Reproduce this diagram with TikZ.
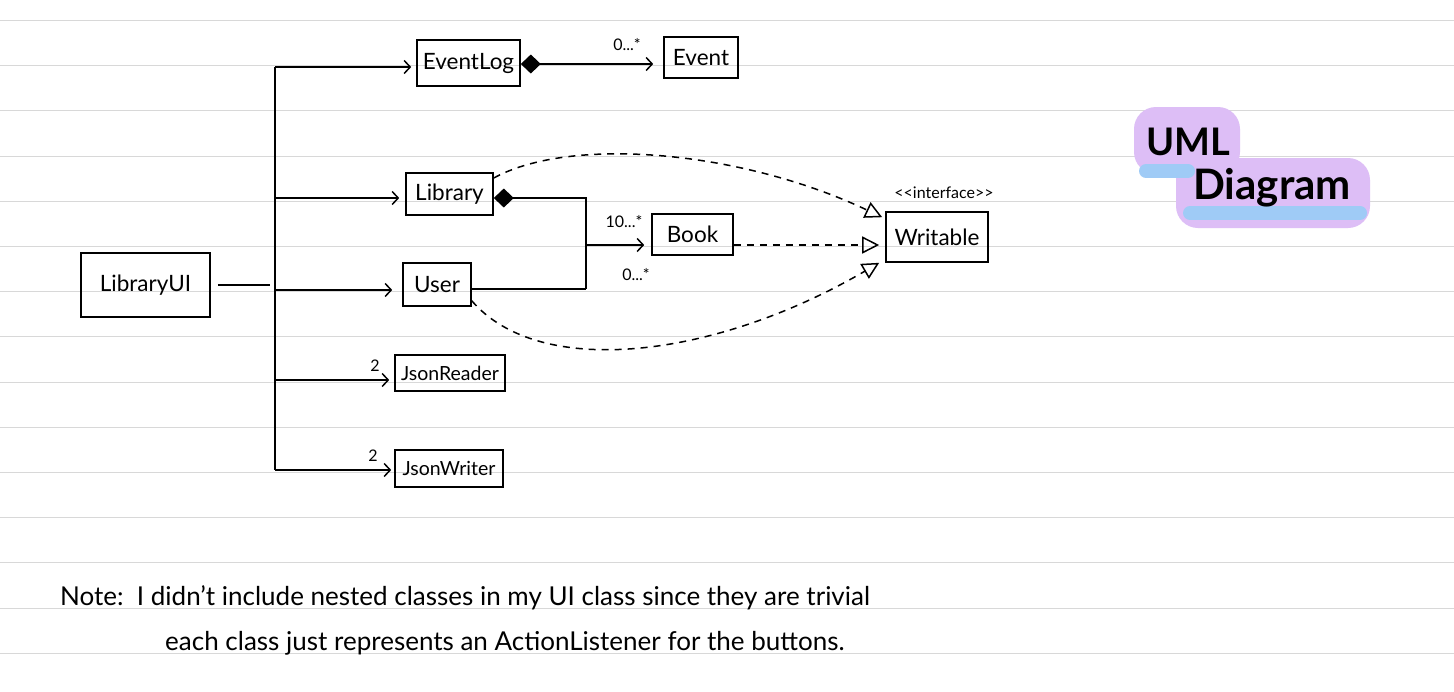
\documentclass[tikz,border=0pt]{standalone}
\usepackage{fontspec}
\setmainfont{Lato}
\usetikzlibrary{arrows.meta}
\definecolor{rule}{HTML}{D8D8D8}
\definecolor{hlpurple}{HTML}{DDBEF6}
\definecolor{hlblue}{HTML}{9FCBF6}
\tikzset{
  cls/.style={draw, line width=1.6pt, inner sep=0pt, font=\fontsize{22.5}{26}\selectfont},
  small/.style={font=\fontsize{19.5}{22}\selectfont},
  wire/.style={line width=1.6pt},
  stick/.style={wire, -{Straight Barb[length=6pt,width=13pt,line width=1.5pt]}},
  comp/.style={wire, {Diamond[length=20pt,width=19pt]}-},
  real/.style={line width=1.5pt, dash pattern=on 7pt off 6pt, -{Triangle[open,length=17pt,width=17pt,line width=1.5pt]}},
  mult/.style={font=\fontsize{16}{18}\selectfont, inner sep=0pt},
  note/.style={font=\fontsize{26}{29}\selectfont, inner sep=0pt, anchor=base west},
  title/.style={font=\fontsize{42}{46}\selectfont\bfseries, inner sep=0pt},
}
\begin{document}
\begin{tikzpicture}[x=1pt,y=-1pt]
\useasboundingbox[fill=white] (0,0) rectangle (1454,691);
% ruled paper
\foreach \k in {0,...,14}{
  \pgfmathsetmacro{\yy}{round(20+45.2*\k)+0.5}
  \draw[rule, line width=1.4pt] (0,\yy) -- (1454,\yy);
}
% title highlight
\fill[hlpurple, rounded corners=22pt] (1134,107) rectangle (1240,174);
\fill[hlpurple, rounded corners=22pt] (1176,158) rectangle (1370,228);
\draw[hlblue, line width=14pt, line cap=round] (1146,171) -- (1188,171);
\draw[hlblue, line width=14pt, line cap=round] (1190,213) -- (1360,213);
\node[title, font=\fontsize{38}{42}\selectfont\bfseries] (t1) at (1188,142) {UML};
\node[title] (t2) at (1272,188) {Diagram};

% classes
\node[cls, minimum width=129pt, minimum height=64pt] (ui) at (145.5,285) {LibraryUI};
\node[cls, minimum width=103pt, minimum height=46pt] (el) at (468.5,63) {EventLog};
\node[cls, minimum width=74pt, minimum height=41pt] (ev) at (701,57.5) {Event};
\node[cls, minimum width=87pt, minimum height=42pt] (lib) at (449.5,194) {Library};
\node[cls, minimum width=68pt, minimum height=43pt] (user) at (437,284.5) {User};
\node[cls, minimum width=81pt, minimum height=41pt] (book) at (692.5,234.5) {Book};
\node[cls, minimum width=102pt, minimum height=50pt] (wr) at (937,237) {Writable};
\node[cls, small, minimum width=110pt, minimum height=36pt] (jr) at (450,373) {JsonReader};
\node[cls, small, minimum width=108pt, minimum height=37pt] (jw) at (449,468.5) {JsonWriter};
\node[mult] (iface) at (944,193) {<\kern0pt<interface>\kern0pt>};

% bus from LibraryUI
\coordinate (uistub) at (270,285);
\draw[wire] ([xshift=7pt]ui.east) -- (uistub);
\coordinate (btop) at (275,67);
\coordinate (bbot) at (275,470);
\draw[wire] (btop) -- (bbot);
\coordinate (b2) at (275,198);
\coordinate (b3) at (275,290);
\coordinate (b4) at (275,380);
\draw[stick, shorten >=5pt] (btop) -- (btop -| el.west);
\draw[stick, shorten >=6pt] (b2) -- (b2 -| lib.west);
\draw[stick, shorten >=10pt] (b3) -- (b3 -| user.west);
\draw[stick, shorten >=5pt] (b4) -- (b4 -| jr.west);
\draw[stick, shorten >=3pt] (bbot) -- (bbot -| jw.west);
\node[mult] (m5) at (375,366) {2};
\node[mult] (m6) at (373,456) {2};

% EventLog -> Event
\draw[wire, {Diamond[length=20pt,width=19pt]}-{Straight Barb[length=6pt,width=13pt,line width=1.5pt]}, shorten >=10pt] (el.east |- 0,64) -- (ev.west |- 0,64);
\node[mult] (m1) at (627,45) {0...*};

% Library / User -> Book
\coordinate (j1) at (586,198);
\coordinate (j2) at (586,289);
\coordinate (j3) at (586,245);
\draw[comp] (lib.east |- j1) -- (j1) -- (j2);
\draw[wire] (user.east |- j2) -- (j2);
\draw[stick, shorten >=7pt] (j3) -- (j3 -| book.west);
\node[mult] (m2) at (624,222) {10...*};
\node[mult] (m3) at (636,275) {0...*};

% realizations
\draw[real, shorten >=6pt] (book.east |- 0,245) -- (wr.west |- 0,245);
\draw[real] ([yshift=16pt]lib.east) .. controls (570,136) and (740,150) .. ([xshift=-3pt,yshift=-6pt]wr.north west);
\draw[real] ([yshift=6pt]user.south east) .. controls (540,380) and (716,358) .. ([xshift=-6pt]wr.south west);

% note
\node[note] (n1) at (60,605) {Note:\ \ I didn't include nested classes in my UI class since they are trivial};
\node[note] (n2) at (165,650) {each class just represents an ActionListener for the buttons.};
\end{tikzpicture}
\end{document}
